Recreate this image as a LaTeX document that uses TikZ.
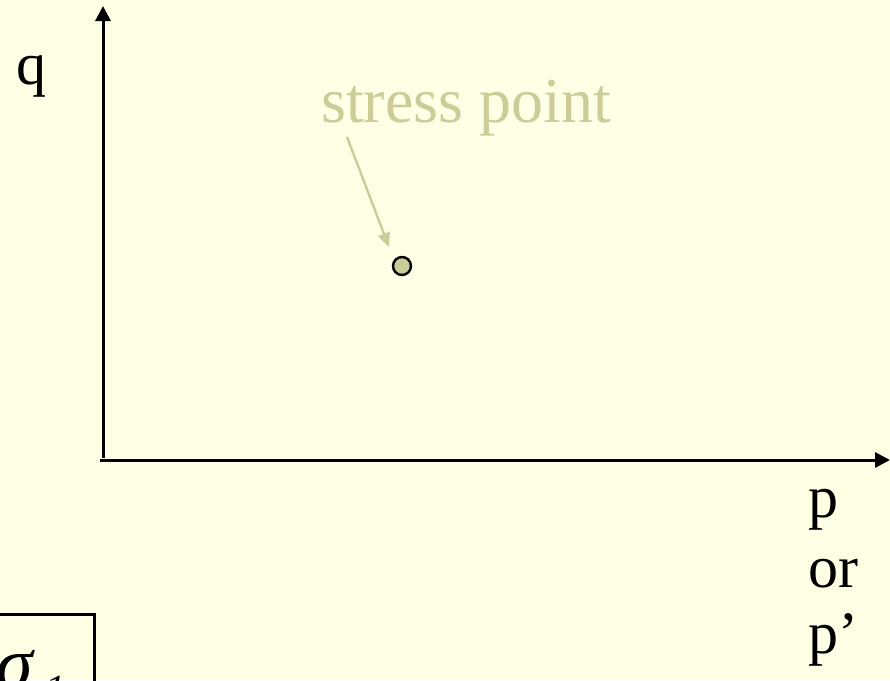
\documentclass[tikz,border=0pt]{standalone}
\usepackage{fontspec}
\setmainfont{Liberation Serif}
\usetikzlibrary{arrows.meta}
\definecolor{bg}{RGB}{255,255,229}
\definecolor{olive}{RGB}{204,204,153}
\tikzset{
  axis/.style={line width=3pt,-{Triangle[length=15pt,width=15pt]}},
  big/.style={inner sep=0pt,anchor=base west,font=\fontsize{60}{66}\selectfont},
  pointer/.style={olive,line width=2.4pt,-{Triangle[length=14pt,width=12pt]}},
  dot/.style={circle,draw=black,line width=2.4pt,fill=olive,minimum size=18pt,inner sep=0pt},
  framebox/.style={draw=black,line width=3pt}
}
\begin{document}
\begin{tikzpicture}[x=1pt,y=-1pt]
\fill[bg] (0,0) rectangle (890,680);
\useasboundingbox (0,0) rectangle (890,680);
\clip (0,0) rectangle (890,680);
% axes
\coordinate (ybot) at (103,458);
\coordinate (ytop) at (103,6);
\coordinate (xleft) at (100,460);
\coordinate (xright) at (890,460);
\draw[axis] (ybot) -- (ytop);
\draw[axis] (xleft) -- (xright);
% labels
\node[big] (q) at (16,84) {q};
\node[big] (p) at (808,517) {p};
\node[big] (or) at (808,587) {or};
\node[big] (pp) at (808,653) {p’};
% stress point
\node[big,olive,font=\fontsize{64}{68}\selectfont] (sp) at (321,122) {stress point};
\node[dot] (pt) at (402,266) {};
\coordinate (arrs) at (347,137);
\coordinate (arre) at (389,247);
\draw[pointer] (arrs) -- (arre);
% sigma box (cut off by the picture's edges, as in the reference)
\draw[framebox] (-20,614) rectangle (94,740);
\node[inner sep=0pt,anchor=base west,font=\fontsize{74}{78}\selectfont\itshape] (sig) at (-4,688) {σ};
\node[inner sep=0pt,anchor=base west,font=\fontsize{40}{44}\selectfont\itshape] (one) at (45,702) {1};
\end{tikzpicture}
\end{document}
